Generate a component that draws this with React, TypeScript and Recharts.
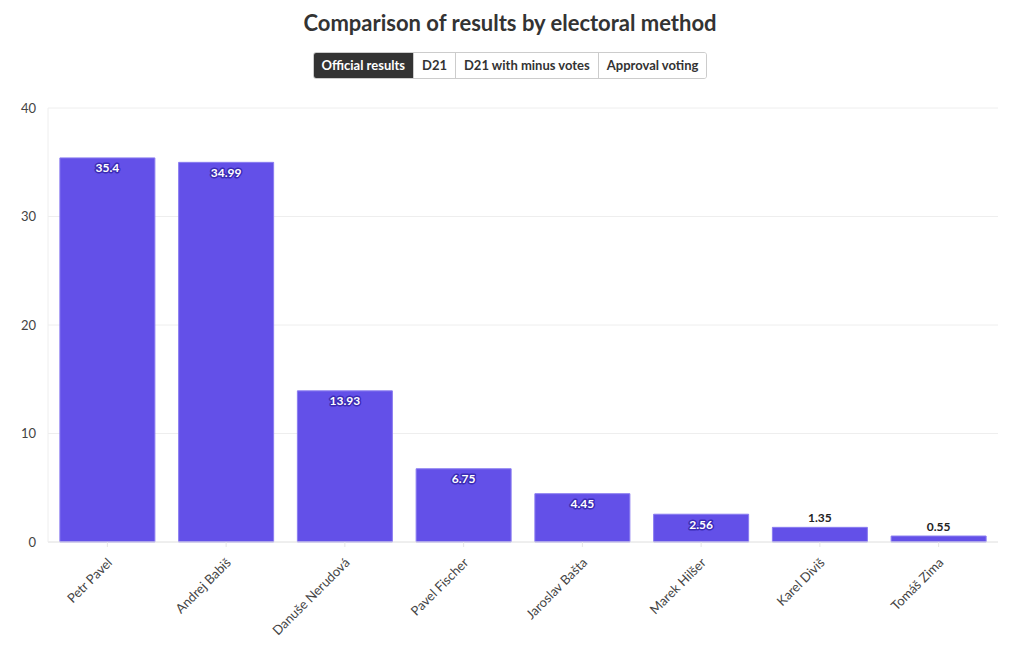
import React from "react";
import { BarChart, Bar, XAxis, YAxis, CartesianGrid, LabelList } from "recharts";

const candidates = [
  "Petr Pavel",
  "Andrej Babiš",
  "Danuše Nerudová",
  "Pavel Fischer",
  "Jaroslav Bašta",
  "Marek Hilšer",
  "Karel Diviš",
  "Tomáš Zima",
];
const officialResults = [35.4, 34.99, 13.93, 6.75, 4.45, 2.56, 1.35, 0.55];
const yTicks = [0, 10, 20, 30, 40];
const methods = ["Official results", "D21", "D21 with minus votes", "Approval voting"];

const data = candidates.map((name, i) => ({ name, value: officialResults[i] }));

const FONT = "'Source Sans Pro', Lato, 'Noto Sans', sans-serif";
const BAR = "#6350e8";

const ValueLabel = (props: any) => {
  const { x, y, width, height, value } = props;
  const cx = x + width / 2;
  if (height > 22) {
    return (
      <text
        x={cx}
        y={y + 10}
        textAnchor="middle"
        dominantBaseline="central"
        fontFamily={FONT}
        fontSize={12}
        fontWeight={700}
        fill="#ffffff"
        stroke="#3b2bb5"
        strokeWidth={3}
        strokeLinejoin="round"
        paintOrder="stroke"
      >
        {value}
      </text>
    );
  }
  return (
    <text
      x={cx}
      y={y - 10}
      textAnchor="middle"
      dominantBaseline="central"
      fontFamily={FONT}
      fontSize={12}
      fontWeight={700}
      fill="#222"
    >
      {value}
    </text>
  );
};

const XTick = (props: any) => {
  const { x, y, payload } = props;
  return (
    <g transform={`translate(${x},${y + 6})`}>
      <text
        transform="rotate(-45)"
        textAnchor="end"
        dominantBaseline="central"
        x={-2}
        y={5}
        fontFamily={FONT}
        fontSize={13}
        fill="#444"
      >
        {payload.value}
      </text>
    </g>
  );
};

export default function App() {
  return (
    <div
      style={{
        position: "absolute",
        left: 0,
        top: 0,
        width: 1020,
        height: 650,
        background: "#fff",
        fontFamily: FONT,
      }}
    >
      <div
        style={{
          position: "absolute",
          top: 9,
          left: 0,
          width: 1020,
          textAlign: "center",
          fontSize: 22,
          fontWeight: 700,
          color: "#333",
        }}
      >
        Comparison of results by electoral method
      </div>
      <div
        style={{
          position: "absolute",
          top: 52,
          left: 0,
          width: 1020,
          display: "flex",
          justifyContent: "center",
        }}
      >
        <div style={{ display: "flex", border: "1px solid #ccc", borderRadius: 3, overflow: "hidden" }}>
          {methods.map((m, i) => (
            <div
              key={m}
              style={{
                padding: "0 8px",
                height: 25,
                lineHeight: "25px",
                fontSize: 13,
                fontWeight: 700,
                background: i === 0 ? "#333" : "#fff",
                color: i === 0 ? "#fff" : "#333",
                borderLeft: i === 0 ? "none" : "1px solid #ccc",
              }}
            >
              {m}
            </div>
          ))}
        </div>
      </div>
      <div style={{ position: "absolute", top: 0, left: 0 }}>
        <BarChart
          width={1020}
          height={650}
          data={data}
          margin={{ top: 108, right: 22, bottom: 8, left: 0 }}
          barCategoryGap="10%"
        >
          <CartesianGrid stroke="#eeeeee" vertical={false} />
          <XAxis
            dataKey="name"
            interval={0}
            height={100}
            tick={<XTick />}
            axisLine={{ stroke: "#e6e6e6" }}
            tickLine={{ stroke: "#e6e6e6" }}
            tickSize={5}
          />
          <YAxis
            width={48}
            domain={[0, 40]}
            ticks={yTicks}
            axisLine={{ stroke: "#eeeeee" }}
            tickLine={false}
            tick={{ fontFamily: FONT, fontSize: 13, fill: "#444" }}
            tickMargin={6}
          />
          <Bar dataKey="value" fill={BAR} stroke="#8a7cf0" strokeWidth={1} isAnimationActive={false}>
            <LabelList dataKey="value" content={<ValueLabel />} />
          </Bar>
        </BarChart>
      </div>
    </div>
  );
}
